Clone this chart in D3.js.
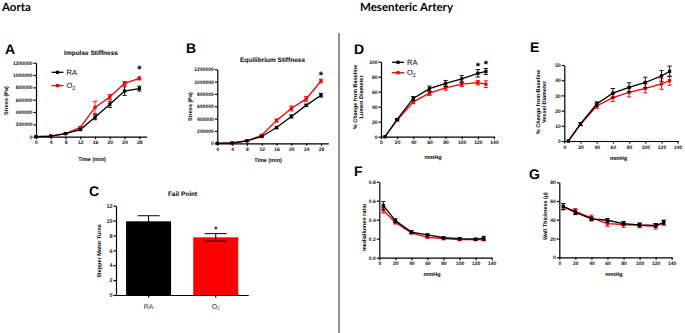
<!doctype html>
<html lang="en">
  <head>
    <meta charset="UTF-8" />
    <title>Aorta and Mesenteric Artery</title>
    <script src="https://d3js.org/d3.v7.min.js"></script>
    <style>
      body {
        margin: 0;
        background: #fff;
        -webkit-font-smoothing: antialiased;
      }
      svg {
        display: block;
        font-family: 'Liberation Sans', Arial, sans-serif;
        text-rendering: geometricPrecision;
      }
      svg text {
        fill: #000;
      }
      .axis path,
      .axis line {
        stroke: #000;
        stroke-width: 1.2;
      }
      .axis text {
        font-size: 5px;
        font-weight: bold;
        fill: #111;
        font-family: 'Liberation Sans', Arial, sans-serif;
      }
      .letter {
        font-size: 14px;
        font-weight: bold;
      }
      .ptitle {
        font-size: 6.5px;
        font-weight: bold;
        text-anchor: middle;
        fill: #000;
      }
      .alabel {
        font-size: 5.5px;
        font-weight: bold;
        text-anchor: middle;
      }
      .header {
        font-family: Lato, 'Open Sans', sans-serif;
        font-size: 11.5px;
        font-weight: bold;
      }
    </style>
  </head>
  <body>
    <svg id="chart" width="685" height="333"></svg>

    <script>
      // Aorta: stress vs time
      const timeMin = [0, 4, 8, 12, 16, 20, 24, 28]
      const timeTicks = [0, 4, 8, 12, 16, 20, 24, 28]
      const stressTicks = [0, 200000, 400000, 600000, 800000, 1000000, 1200000]

      const impulseRA = [0, 10000, 50000, 115000, 315000, 525000, 740000, 780000]
      const impulseRAErr = [0, 0, 5000, 15000, 40000, 50000, 70000, 40000]
      const impulseO2 = [0, 10000, 50000, 150000, 475000, 645000, 865000, 945000]
      const impulseO2Err = [0, 0, 5000, 15000, 100000, 40000, 30000, 25000]

      const equilRA = [0, 5000, 40000, 110000, 255000, 435000, 615000, 780000]
      const equilRAErr = [0, 0, 5000, 10000, 20000, 25000, 20000, 30000]
      const equilO2 = [0, 5000, 40000, 130000, 370000, 565000, 720000, 1010000]
      const equilO2Err = [0, 0, 5000, 10000, 25000, 40000, 40000, 30000]

      // Aorta: fail point
      const failGroups = ['RA', 'O2']
      const failMean = [9.9, 7.75]
      const failErr = [0.75, 0.5]
      const failTicks = [0, 2, 4, 6, 8, 10, 12]

      // Mesenteric artery: vs pressure
      const pressure = [5, 20, 40, 60, 80, 100, 120, 130]
      const pressureTicks = [0, 20, 40, 60, 80, 100, 120, 140]

      const lumenRA = [0, 23, 51, 64, 71, 77, 84.5, 87]
      const lumenRAErr = [0, 1, 2.5, 3.5, 4, 4.5, 5, 4]
      const lumenO2 = [0, 22, 46.5, 58, 65, 70, 72, 70]
      const lumenO2Err = [0, 1, 2.5, 3, 3, 3, 3, 4.5]
      const lumenTicks = [0, 20, 40, 60, 80, 100]

      const vesselRA = [0, 11.2, 24.3, 31.5, 35.3, 38.5, 42.8, 45.8]
      const vesselRAErr = [0, 1, 1.5, 3, 3, 3.5, 3.5, 3.5]
      const vesselO2 = [0, 11, 23, 28.5, 32, 34.6, 37.5, 39.7]
      const vesselO2Err = [0, 1, 1.5, 2.5, 3, 3, 3.5, 3]
      const vesselTicks = [0, 10, 20, 30, 40, 50]

      const mediaRA = [0.55, 0.39, 0.27, 0.24, 0.21, 0.2, 0.195, 0.205]
      const mediaRAErr = [0.04, 0.02, 0.015, 0.01, 0.01, 0.01, 0.01, 0.02]
      const mediaO2 = [0.5, 0.37, 0.26, 0.215, 0.2, 0.19, 0.19, 0.19]
      const mediaO2Err = [0.03, 0.015, 0.01, 0.01, 0.01, 0.01, 0.01, 0.01]
      const mediaTicks = [0, 0.2, 0.4, 0.6, 0.8]

      const wallRA = [54, 48, 41, 39.5, 36, 34.5, 34, 37]
      const wallRAErr = [3, 2.5, 2, 2, 2, 2, 2, 2.5]
      const wallO2 = [54, 49, 42, 36, 35, 34, 33, 37]
      const wallO2Err = [3.5, 3, 3, 3, 3, 2.5, 3, 2.5]
      const wallTicks = [0, 20, 40, 60, 80]

      const RED = '#f20000'
      const BLACK = '#000'

      const svg = d3.select('#chart')

      // headers and divider
      svg.append('text').attr('class', 'header').attr('x', 2).attr('y', 11).text('Aorta')
      svg.append('text').attr('class', 'header').attr('x', 360).attr('y', 11).text('Mesenteric Artery')
      svg.append('line')
        .attr('x1', 339).attr('x2', 339).attr('y1', 33).attr('y2', 333)
        .attr('stroke', '#444').attr('stroke-width', 1.2)

      function addO2(sel) {
        sel.append('tspan').text('O')
        sel.append('tspan').attr('font-size', '0.7em').attr('dy', '0.3em').text('2')
      }

      function star(x, y, size) {
        svg.append('text')
          .attr('x', x).attr('y', y + size * 0.55)
          .attr('text-anchor', 'middle')
          .attr('font-size', size).attr('font-weight', 'bold')
          .text('*')
      }

      function rotLabel(x, y, lines, size) {
        const t = svg.append('text')
          .attr('class', 'alabel')
          .attr('font-size', size)
          .attr('transform', `translate(${x},${y}) rotate(-90)`)
        lines.forEach((l, i) => {
          t.append('tspan').attr('x', 0).attr('dy', i === 0 ? 0 : size * 1.15).text(l)
        })
      }

      function linePanel(p) {
        const x = d3.scaleLinear().domain(p.xDomain).range([p.box.l, p.box.r])
        const y = d3.scaleLinear().domain(p.yDomain).range([p.box.b, p.box.t])

        svg.append('text').attr('class', 'letter').attr('x', p.letter[0]).attr('y', p.letter[1]).text(p.key)
        if (p.title) {
          svg.append('text').attr('class', 'ptitle').attr('x', p.title[1]).attr('y', p.title[2]).text(p.title[0])
        }

        svg.append('g')
          .attr('class', 'axis')
          .attr('transform', `translate(0,${p.box.b})`)
          .call(d3.axisBottom(x).tickValues(p.xTicks).tickSize(2.5).tickSizeOuter(0).tickPadding(1.5))
        svg.append('g')
          .attr('class', 'axis')
          .attr('transform', `translate(${p.box.l},0)`)
          .call(d3.axisLeft(y).tickValues(p.yTicks).tickSize(2.5).tickSizeOuter(0).tickPadding(1).tickFormat(p.yFmt))

        svg.append('text').attr('class', 'alabel').attr('font-size', p.xLabel[3])
          .attr('x', p.xLabel[1]).attr('y', p.xLabel[2]).text(p.xLabel[0])
        rotLabel(p.yLabel[1], p.yLabel[2], p.yLabel[0], p.yLabel[3])

        const line = d3.line().x((d) => x(d.x)).y((d) => y(d.v))
        p.series.forEach((s) => {
          const pts = p.xs.map((xv, i) => ({ x: xv, v: s.vals[i], e: s.errs[i] }))
          svg.append('path').datum(pts)
            .attr('d', line).attr('fill', 'none')
            .attr('stroke', s.color).attr('stroke-width', 1.3)
          const eb = svg.append('g').attr('stroke', s.color).attr('stroke-width', 0.9)
          pts.filter((d) => d.e > 0).forEach((d) => {
            eb.append('line').attr('x1', x(d.x)).attr('x2', x(d.x)).attr('y1', y(d.v - d.e)).attr('y2', y(d.v + d.e))
            ;[d.v - d.e, d.v + d.e].forEach((v) => {
              eb.append('line').attr('x1', x(d.x) - 2.2).attr('x2', x(d.x) + 2.2).attr('y1', y(v)).attr('y2', y(v))
            })
          })
          svg.append('g').selectAll('rect').data(pts).enter().append('rect')
            .attr('x', (d) => x(d.x) - 1.6).attr('y', (d) => y(d.v) - 1.6)
            .attr('width', 3.2).attr('height', 3.2).attr('fill', s.color)
        })

        if (p.stars) p.stars.forEach((st) => star(x(st[0]), st[1], 11))

        if (p.legend) {
          const [lx, ly, gap] = p.legend
          p.series.slice().reverse().forEach((s, i) => {
            const yy = ly + i * gap
            svg.append('line').attr('x1', lx).attr('x2', lx + 12).attr('y1', yy).attr('y2', yy)
              .attr('stroke', s.color).attr('stroke-width', 1.3)
            svg.append('rect').attr('x', lx + 4.4).attr('y', yy - 1.6).attr('width', 3.2).attr('height', 3.2).attr('fill', s.color)
            const t = svg.append('text').attr('x', lx + 15).attr('y', yy + 2.6).attr('font-size', 7.5)
            if (s.name === 'O2') addO2(t)
            else t.text(s.name)
          })
        }
      }

      const fmtInt = d3.format('d')
      const fmt1 = d3.format('.1f')

      linePanel({
        key: 'A', letter: [5, 54], title: ['Impulse Stiffness', 91, 55],
        box: { l: 36, r: 146.7, t: 62.7, b: 136.7 },
        xDomain: [0, 30], xTicks: timeTicks, yDomain: [0, 1200000], yTicks: stressTicks, yFmt: fmtInt,
        xLabel: ['Time (min)', 92, 161, 5.5], yLabel: [['Stress (Pa)'], 8, 100.5, 5.2],
        xs: timeMin,
        series: [
          { name: 'O2', vals: impulseO2, errs: impulseO2Err, color: RED },
          { name: 'RA', vals: impulseRA, errs: impulseRAErr, color: BLACK },
        ],
        stars: [[28, 66.5]],
        legend: [51.5, 72.3, 13.3],
      })

      linePanel({
        key: 'B', letter: [186, 53], title: ['Equilibrium Stiffness', 272.5, 61.5],
        box: { l: 217.3, r: 328.4, t: 69.3, b: 143.3 },
        xDomain: [0, 30], xTicks: timeTicks, yDomain: [0, 1200000], yTicks: stressTicks, yFmt: fmtInt,
        xLabel: ['Time (min)', 268, 162, 5.5], yLabel: [['Stress (Pa)'], 191.5, 106.5, 5.2],
        xs: timeMin,
        series: [
          { name: 'O2', vals: equilO2, errs: equilO2Err, color: RED },
          { name: 'RA', vals: equilRA, errs: equilRAErr, color: BLACK },
        ],
        stars: [[28, 72.5]],
      })

      linePanel({
        key: 'D', letter: [354, 54], title: null,
        box: { l: 381, r: 494, t: 61.7, b: 136.7 },
        xDomain: [0, 140], xTicks: pressureTicks, yDomain: [0, 100], yTicks: lumenTicks, yFmt: fmtInt,
        xLabel: ['mmHg', 433, 159, 5.5], yLabel: [['% Change from Baseline', 'Lumen Diameter'], 357, 97, 5.3],
        xs: pressure,
        series: [
          { name: 'O2', vals: lumenO2, errs: lumenO2Err, color: RED },
          { name: 'RA', vals: lumenRA, errs: lumenRAErr, color: BLACK },
        ],
        stars: [[120, 63.5], [130, 61.5]],
        legend: [392, 62.3, 10.4],
      })

      linePanel({
        key: 'E', letter: [530, 52], title: null,
        box: { l: 564.3, r: 677.7, t: 65, b: 141 },
        xDomain: [0, 140], xTicks: pressureTicks, yDomain: [0, 50], yTicks: vesselTicks, yFmt: fmtInt,
        xLabel: ['mmHg', 618.5, 160, 5.5], yLabel: [['% Change from Baseline', 'Vessel Diameter'], 540, 102, 5.3],
        xs: pressure,
        series: [
          { name: 'O2', vals: vesselO2, errs: vesselO2Err, color: RED },
          { name: 'RA', vals: vesselRA, errs: vesselRAErr, color: BLACK },
        ],
      })

      linePanel({
        key: 'F', letter: [354, 176], title: null,
        box: { l: 379.3, r: 491.7, t: 181.7, b: 257.7 },
        xDomain: [0, 140], xTicks: pressureTicks, yDomain: [0, 0.8], yTicks: mediaTicks, yFmt: fmt1,
        xLabel: ['mmHg', 432, 276, 5.5], yLabel: [['media/lumen ratio'], 366, 227.5, 5],
        xs: pressure,
        series: [
          { name: 'O2', vals: mediaO2, errs: mediaO2Err, color: RED },
          { name: 'RA', vals: mediaRA, errs: mediaRAErr, color: BLACK },
        ],
      })

      linePanel({
        key: 'G', letter: [529, 179], title: null,
        box: { l: 559.3, r: 671.7, t: 182.3, b: 257.3 },
        xDomain: [0, 140], xTicks: pressureTicks, yDomain: [0, 80], yTicks: wallTicks, yFmt: fmtInt,
        xLabel: ['mmHg', 614, 276, 5.5], yLabel: [['Wall Thickness (\u00b5)'], 546.5, 216, 5.3],
        xs: pressure,
        series: [
          { name: 'O2', vals: wallO2, errs: wallO2Err, color: RED },
          { name: 'RA', vals: wallRA, errs: wallRAErr, color: BLACK },
        ],
      })

      // Panel C: fail point bars
      function createFailChart() {
        const left = 116, right = 248.3, top = 205.7, bottom = 295
        const x = d3.scaleBand().domain(failGroups).range([left, right]).paddingInner(0.33).paddingOuter(0.15)
        const y = d3.scaleLinear().domain([0, 12]).range([bottom, top])

        svg.append('text').attr('class', 'letter').attr('x', 89).attr('y', 195.5).text('C')
        svg.append('text').attr('class', 'ptitle').attr('font-size', 7.2).attr('x', 182.5).attr('y', 195.7).text('Fail Point')

        const data = failGroups.map((g, i) => ({ g, v: failMean[i], e: failErr[i] }))

        svg.selectAll('.bar').data(data).enter().append('rect')
          .attr('class', 'bar')
          .attr('x', (d) => x(d.g)).attr('y', (d) => y(d.v))
          .attr('width', x.bandwidth()).attr('height', (d) => bottom - y(d.v))
          .attr('fill', (d, i) => (i === 0 ? BLACK : '#ff0000'))

        const eb = svg.append('g').attr('stroke', '#000').attr('stroke-width', 1)
        data.forEach((d) => {
          const cx = x(d.g) + x.bandwidth() / 2
          eb.append('line').attr('x1', cx).attr('x2', cx).attr('y1', y(d.v - d.e)).attr('y2', y(d.v + d.e))
          ;[d.v - d.e, d.v + d.e].forEach((v) => {
            eb.append('line').attr('x1', cx - 11).attr('x2', cx + 11).attr('y1', y(v)).attr('y2', y(v))
          })
        })

        svg.append('g').attr('class', 'axis')
          .attr('transform', `translate(${left},0)`)
          .call(d3.axisLeft(y).tickValues(failTicks).tickSize(2.5).tickSizeOuter(0).tickPadding(1))
          .selectAll('text').style('font-size', '5.5px')

        const xa = svg.append('g').attr('class', 'axis')
          .attr('transform', `translate(0,${bottom})`)
          .call(d3.axisBottom(x).tickSize(2.5).tickSizeOuter(0).tickFormat(''))
        xa.selectAll('.tick text').remove()

        data.forEach((d) => {
          const t = svg.append('text')
            .attr('x', x(d.g) + x.bandwidth() / 2).attr('y', 309)
            .attr('text-anchor', 'middle').attr('font-size', 7).style('fill', '#333')
          if (d.g === 'O2') addO2(t)
          else t.text(d.g)
        })

        star(x('O2') + x.bandwidth() / 2, 227.7, 8)
        rotLabel(100.5, 251, ['Stepper Motor Turns'], 6.6)
      }

      createFailChart()
    </script>
  </body>
</html>
